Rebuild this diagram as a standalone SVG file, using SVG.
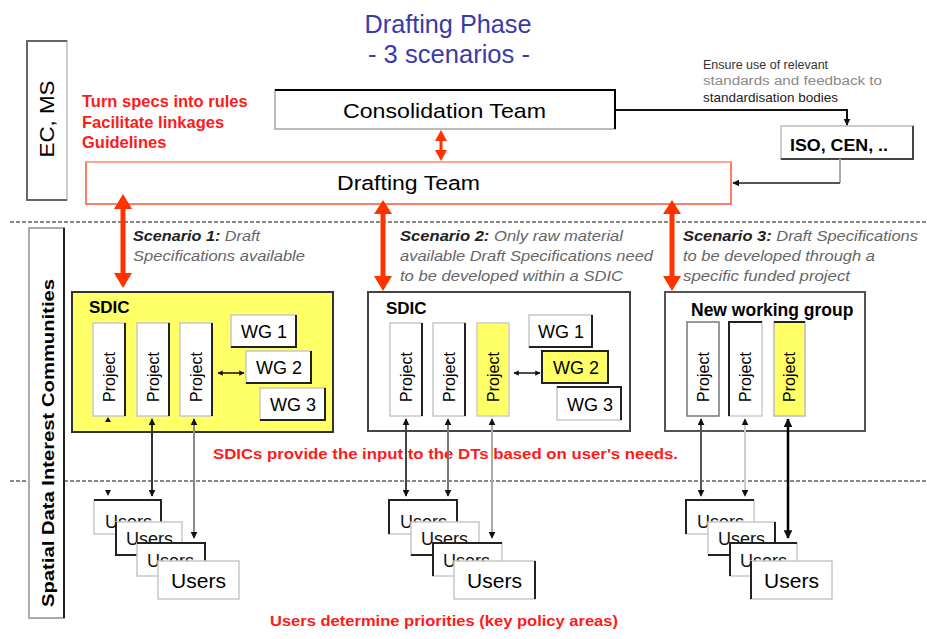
<svg xmlns="http://www.w3.org/2000/svg" width="927" height="639" viewBox="0 0 927 639">
<style>
text{font-family:"Liberation Sans",Arial,sans-serif}
.red{fill:#ff1a1a;font-weight:bold}
.scen{font-style:italic;font-size:15px;fill:#666}
.scen .b{font-weight:bold;fill:#222}
.proj{font-size:16px;fill:#000}
.wg{font-size:18px;fill:#000}
.usr{font-size:18px;fill:#111}
.box{fill:#fff;stroke:#c8c8c8;stroke-width:1.5}
.dark{fill:none;stroke:#222;stroke-width:2}
.dot{stroke:#888;stroke-width:2;stroke-dasharray:4 2}
.ra{fill:#ff3300}
</style>
<defs>
<marker id="ah" viewBox="0 0 10 10" refX="9" refY="5" markerWidth="3.5" markerHeight="3.5" orient="auto-start-reverse"><path d="M0,0L10,5L0,10z" fill="#111"/></marker>
</defs>

<!-- title -->
<g id="title">
<text x="448" y="33" text-anchor="middle" font-size="25" fill="#3a3aa8" textLength="167" lengthAdjust="spacingAndGlyphs">Drafting Phase</text>
<text x="449" y="63" text-anchor="middle" font-size="25" fill="#3a3aa8" textLength="162" lengthAdjust="spacingAndGlyphs">- 3 scenarios -</text>
</g>

<!-- section separators -->
<g id="separators">
<line class="dot" x1="10" y1="222" x2="927" y2="222"/>
<line class="dot" x1="10" y1="481" x2="927" y2="481"/>
</g>

<g id="ec-ms">
<rect x="27" y="41" width="40" height="159" fill="#fff" stroke="#ccc" stroke-width="2"/>
<path d="M67,41H27V200H67" fill="none" stroke="#666" stroke-width="2"/>
<text transform="translate(54,119) rotate(-90)" text-anchor="middle" font-size="20" textLength="77" lengthAdjust="spacingAndGlyphs">EC, MS</text>
</g>

<g id="sdic-label">
<rect x="29" y="228" width="35" height="390" fill="#fff" stroke="#aaa" stroke-width="2"/>
<line x1="64" y1="228" x2="64" y2="618" stroke="#222" stroke-width="2"/>
<text transform="translate(54,443) rotate(-90)" text-anchor="middle" font-size="17" font-weight="bold" textLength="328" lengthAdjust="spacingAndGlyphs">Spatial Data Interest Communities</text>
</g>

<g id="red-notes">
<text class="red" x="82" y="107" font-size="16.5">Turn specs into rules</text>
<text class="red" x="82" y="128" font-size="16.5">Facilitate linkages</text>
<text class="red" x="82" y="148" font-size="16.5">Guidelines</text>
<text class="red" x="213" y="459" font-size="14.5" textLength="465" lengthAdjust="spacingAndGlyphs">SDICs provide the input to the DTs based on user's needs.</text>
<text class="red" x="270" y="626" font-size="15" textLength="348" lengthAdjust="spacingAndGlyphs">Users determine priorities (key policy areas)</text>
</g>

<g id="consolidation-team">
<rect x="275" y="90" width="340" height="39" fill="#fff" stroke="#bbb" stroke-width="2"/>
<path d="M275,90H615V129" fill="none" stroke="#000" stroke-width="2"/>
<text x="444.5" y="118" text-anchor="middle" font-size="21" textLength="203" lengthAdjust="spacingAndGlyphs">Consolidation Team</text>
</g>

<g id="drafting-team">
<rect x="86" y="162" width="645" height="42" fill="#fff" stroke="#ff5533" stroke-width="1.5"/>
<line x1="86" y1="162" x2="731" y2="162" stroke="#ffb0a0" stroke-width="1.5"/>
<text x="408.5" y="190" text-anchor="middle" font-size="20" textLength="143" lengthAdjust="spacingAndGlyphs">Drafting Team</text>
</g>

<g id="iso-cen">
<rect x="781" y="126" width="132" height="33" fill="#fff" stroke="#ccc" stroke-width="2"/>
<path d="M913,126V159H781" fill="none" stroke="#444" stroke-width="2"/>
<text x="839" y="151" text-anchor="middle" font-size="17" font-weight="bold" textLength="98" lengthAdjust="spacingAndGlyphs">ISO, CEN, ..</text>
</g>

<g id="standards-note" font-size="12.5">
<text x="703" y="69" fill="#333">Ensure use of relevant</text>
<text x="703" y="85" fill="#888" font-size="12.5" textLength="179" lengthAdjust="spacingAndGlyphs">standards and feedback to</text>
<text x="703" y="102" fill="#222" font-size="13.5">standardisation bodies</text>
</g>

<g id="scenario-texts">
<text class="scen" x="133" y="241" textLength="127" lengthAdjust="spacingAndGlyphs"><tspan class="b">Scenario 1:</tspan> Draft</text>
<text class="scen" x="133" y="261" textLength="172" lengthAdjust="spacingAndGlyphs">Specifications available</text>
<text class="scen" x="400" y="241" textLength="223" lengthAdjust="spacingAndGlyphs"><tspan class="b">Scenario 2:</tspan> Only raw material</text>
<text class="scen" x="400" y="261" textLength="253" lengthAdjust="spacingAndGlyphs">available Draft Specifications need</text>
<text class="scen" x="400" y="281" textLength="223" lengthAdjust="spacingAndGlyphs">to be developed within a SDIC</text>
<text class="scen" x="683" y="241" textLength="235" lengthAdjust="spacingAndGlyphs"><tspan class="b">Scenario 3:</tspan> Draft Specifications</text>
<text class="scen" x="683" y="261" textLength="192" lengthAdjust="spacingAndGlyphs">to be developed through a</text>
<text class="scen" x="683" y="281" textLength="167" lengthAdjust="spacingAndGlyphs">specific funded project</text>
</g>

<!-- Scenario 1 SDIC -->
<g id="sdic1">
<rect x="72" y="292" width="261" height="140" fill="#ffff66" stroke="#333" stroke-width="2"/>
<text x="89" y="313" font-size="17" font-weight="bold">SDIC</text>
<g id="s1-project1"><rect class="box" x="93" y="323" width="32" height="93"/><line class="dark" x1="125" y1="323" x2="125" y2="416"/><text class="proj" transform="translate(115,377) rotate(-90)" text-anchor="middle">Project</text></g>
<g id="s1-project2"><rect class="box" x="137" y="323" width="32" height="93"/><line class="dark" x1="169" y1="323" x2="169" y2="416"/><text class="proj" transform="translate(159,377) rotate(-90)" text-anchor="middle">Project</text></g>
<g id="s1-project3"><rect class="box" x="180" y="323" width="32" height="93"/><line class="dark" x1="212" y1="323" x2="212" y2="416"/><text class="proj" transform="translate(202,377) rotate(-90)" text-anchor="middle">Project</text></g>
<g id="s1-wg1"><rect class="box" x="231" y="315" width="65" height="32"/><path class="dark" d="M296,315V347H231"/><text class="wg" x="264" y="338" text-anchor="middle">WG 1</text></g>
<g id="s1-wg2"><rect class="box" x="246" y="351" width="65" height="32"/><path class="dark" d="M311,351V383H246"/><text class="wg" x="279" y="374" text-anchor="middle">WG 2</text></g>
<g id="s1-wg3"><rect class="box" x="260" y="388" width="65" height="32"/><path class="dark" d="M325,388V420H260"/><text class="wg" x="293" y="411" text-anchor="middle">WG 3</text></g>
</g>

<!-- Scenario 2 SDIC -->
<g id="sdic2">
<rect x="368" y="292" width="262" height="139" fill="#fff" stroke="#444" stroke-width="2"/>
<text x="386" y="314" font-size="17" font-weight="bold">SDIC</text>
<g id="s2-project1"><rect class="box" x="390" y="323" width="32" height="93"/><line class="dark" x1="422" y1="323" x2="422" y2="416"/><text class="proj" transform="translate(412,377) rotate(-90)" text-anchor="middle">Project</text></g>
<g id="s2-project2"><rect class="box" x="433" y="323" width="32" height="93"/><line class="dark" x1="465" y1="323" x2="465" y2="416"/><text class="proj" transform="translate(455,377) rotate(-90)" text-anchor="middle">Project</text></g>
<g id="s2-project3"><rect x="477" y="323" width="32" height="93" fill="#ffff66" stroke="#ccc" stroke-width="1.5"/><text class="proj" transform="translate(499,377) rotate(-90)" text-anchor="middle">Project</text></g>
<g id="s2-wg1"><rect class="box" x="529" y="315" width="63" height="32"/><path class="dark" d="M592,315V347H529"/><text class="wg" x="561" y="338" text-anchor="middle">WG 1</text></g>
<g id="s2-wg2"><rect x="542" y="351" width="66" height="32" fill="#ffff66" stroke="#222" stroke-width="2"/><text class="wg" x="576" y="374" text-anchor="middle">WG 2</text></g>
<g id="s2-wg3"><rect class="box" x="557" y="387" width="64" height="33"/><path class="dark" d="M557,387H621V420"/><text class="wg" x="590" y="411" text-anchor="middle">WG 3</text></g>
</g>

<!-- Scenario 3 -->
<g id="new-wg">
<rect x="665" y="292" width="200" height="139" fill="#fff" stroke="#555" stroke-width="2"/>
<text x="691" y="316" font-size="17.5" font-weight="bold">New working group</text>
<g id="s3-project1"><rect x="687" y="322" width="32" height="94" fill="#fff" stroke="#777" stroke-width="1.5"/><text class="proj" transform="translate(709,377) rotate(-90)" text-anchor="middle">Project</text></g>
<g id="s3-project2"><rect x="729" y="322" width="33" height="94" fill="#fff" stroke="#ccc" stroke-width="1.5"/><path class="dark" d="M729,416V322H762"/><text class="proj" transform="translate(751,377) rotate(-90)" text-anchor="middle">Project</text></g>
<g id="s3-project3"><rect x="774" y="322" width="31" height="94" fill="#ffff66" stroke="#bbb" stroke-width="1.5"/><line class="dark" x1="774" y1="322" x2="805" y2="322"/><text class="proj" transform="translate(795,377) rotate(-90)" text-anchor="middle">Project</text></g>
</g>

<!-- Users stacks -->
<g id="users1">
<g id="u1a"><rect class="box" x="94" y="500" width="67" height="34"/><path class="dark" d="M94,500H161V534"/><text class="usr" x="105" y="528">Users</text></g>
<g id="u1b"><rect class="box" x="116" y="522" width="66" height="33"/><path class="dark" d="M116,522V555H182"/><text class="usr" x="126" y="545">Users</text></g>
<g id="u1c"><rect class="box" x="137" y="543" width="68" height="33"/><path class="dark" d="M137,543H205V576"/><text class="usr" x="147" y="567">Users</text></g>
<g id="u1d"><rect class="box" x="158" y="561" width="81" height="38"/><text x="198.5" y="588" text-anchor="middle" font-size="21">Users</text></g>
</g>
<g id="users2">
<g id="u2a"><rect class="box" x="389" y="500" width="68" height="34"/><path class="dark" d="M389,534V500H457V534"/><text class="usr" x="400" y="528">Users</text></g>
<g id="u2b"><rect class="box" x="411" y="522" width="68" height="33"/><path class="dark" d="M411,555H479"/><text class="usr" x="421" y="545">Users</text></g>
<g id="u2c"><rect class="box" x="433" y="543" width="69" height="33"/><path class="dark" d="M433,576V543H502" stroke="#555"/><text class="usr" x="443" y="567">Users</text></g>
<g id="u2d"><rect class="box" x="454" y="561" width="81" height="38"/><path class="dark" d="M535,561V599" stroke="#444"/><text x="494.5" y="588" text-anchor="middle" font-size="21">Users</text></g>
</g>
<g id="users3">
<g id="u3a"><rect class="box" x="686" y="500" width="68" height="34"/><path class="dark" d="M686,534V500H754" stroke="#444"/><text class="usr" x="697" y="528">Users</text></g>
<g id="u3b"><rect class="box" x="708" y="522" width="67" height="33"/><path class="dark" d="M708,555H775V522"/><text class="usr" x="718" y="545">Users</text></g>
<g id="u3c"><rect class="box" x="730" y="543" width="67" height="33"/><path class="dark" d="M730,576V543H797" stroke="#333"/><text class="usr" x="740" y="567">Users</text></g>
<g id="u3d"><rect class="box" x="751" y="561" width="81" height="38"/><path class="dark" d="M751,561V599"/><text x="791.5" y="588" text-anchor="middle" font-size="21">Users</text></g>
</g>

<!-- connectors -->
<g id="connectors">
<g id="ct-dt"><rect class="ra" x="439.5" y="139" width="3" height="14"/><path class="ra" d="M441,130L447,141H435z M441,161L447,150H435z"/></g>
<g id="dt-s1"><rect class="ra" x="120.5" y="205" width="5" height="70"/><path class="ra" d="M123,194L132,209H114z M123,288L132,273H114z"/></g>
<g id="dt-s2"><rect class="ra" x="380.5" y="210" width="5" height="68"/><path class="ra" d="M383,200L392,214H374z M383,291L392,276H374z"/></g>
<g id="dt-s3"><rect class="ra" x="669.5" y="210" width="5" height="68"/><path class="ra" d="M672,200L681,214H663z M672,291L681,276H663z"/></g>

<path d="M615,110H847V125" fill="none" stroke="#111" stroke-width="2" marker-end="url(#ah)"/>
<path d="M840,159V183" fill="none" stroke="#aaa" stroke-width="2"/>
<path d="M840,183H733" fill="none" stroke="#555" stroke-width="2" marker-end="url(#ah)"/>

<line x1="218" y1="373" x2="244" y2="373" stroke="#111" stroke-width="1.5" marker-start="url(#ah)" marker-end="url(#ah)"/>
<line x1="514" y1="373" x2="540" y2="373" stroke="#111" stroke-width="1.5" marker-start="url(#ah)" marker-end="url(#ah)"/>

<path d="M108,417L111,422H105z M108,496L111,490H105z" fill="#111"/>
<line x1="152" y1="419" x2="152" y2="496" stroke="#333" stroke-width="2" marker-start="url(#ah)" marker-end="url(#ah)"/>
<line x1="194" y1="419" x2="194" y2="538" stroke="#888" stroke-width="2" marker-start="url(#ah)" marker-end="url(#ah)"/>
<line x1="406" y1="419" x2="406" y2="496" stroke="#444" stroke-width="2" marker-start="url(#ah)" marker-end="url(#ah)"/>
<line x1="448" y1="419" x2="448" y2="496" stroke="#777" stroke-width="2" marker-start="url(#ah)" marker-end="url(#ah)"/>
<line x1="492" y1="419" x2="492" y2="538" stroke="#aaa" stroke-width="2" marker-start="url(#ah)" marker-end="url(#ah)"/>
<line x1="701" y1="419" x2="701" y2="496" stroke="#555" stroke-width="2" marker-start="url(#ah)" marker-end="url(#ah)"/>
<line x1="745" y1="419" x2="745" y2="496" stroke="#ccc" stroke-width="2" marker-start="url(#ah)" marker-end="url(#ah)"/>
<line x1="788" y1="419" x2="788" y2="538" stroke="#000" stroke-width="2.5" marker-start="url(#ah)" marker-end="url(#ah)"/>
</g>
</svg>
